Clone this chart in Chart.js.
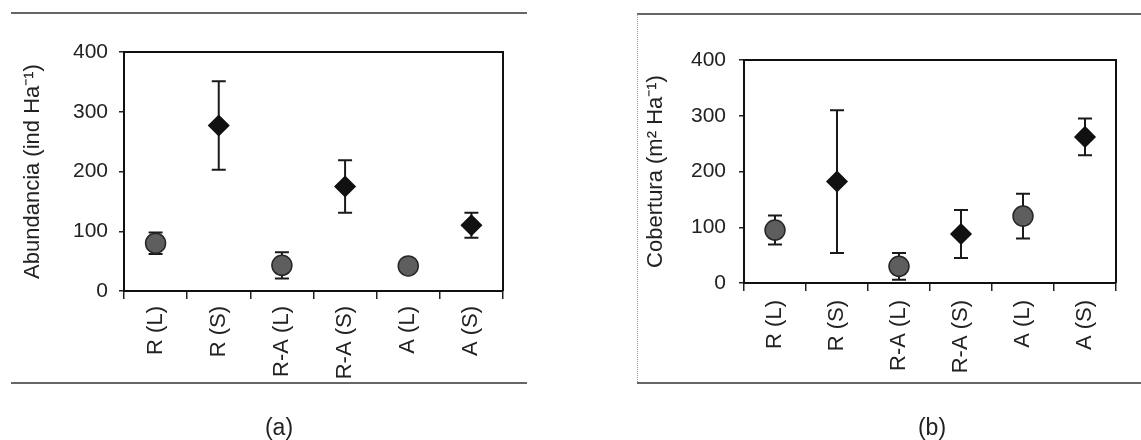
<!DOCTYPE html>
<html><head><meta charset="utf-8">
<script src="https://cdn.jsdelivr.net/npm/chart.js@4.4.1/dist/chart.umd.min.js"></script>
<style>
html,body{margin:0;padding:0;background:#fff;width:1141px;height:440px;overflow:hidden;}
#wrap{position:relative;width:1141px;height:440px;}
canvas{position:absolute;top:0;}
.hl{position:absolute;height:0;border-top:2px solid #666;}
.vl{position:absolute;width:0;border-left:1px dotted #9a9a9a;}
.lab{position:absolute;font:23px "Liberation Sans",Arial,sans-serif;color:#222;transform:translate(-50%,-50%);white-space:nowrap;}
</style></head>
<body><div id="wrap">
<div class="hl" style="left:11px;top:12px;width:516px"></div>
<div class="hl" style="left:11px;top:382px;width:516px"></div>
<div class="hl" style="left:637px;top:13px;width:504px"></div>
<div class="hl" style="left:637px;top:382px;width:504px"></div>
<div class="vl" style="left:637px;top:14px;height:368px"></div>
<canvas id="ca" width="560" height="440" style="left:0;width:560px;height:440px"></canvas>
<canvas id="cb" width="561" height="440" style="left:580px;width:561px;height:440px"></canvas>
<div class="lab" style="left:279px;top:427px">(a)</div>
<div class="lab" style="left:932px;top:427px">(b)</div>
</div>
<script>
// ---- data ----
const categories = ['R (L)', 'R (S)', 'R-A (L)', 'R-A (S)', 'A (L)', 'A (S)'];
const yTicks = [0, 100, 200, 300, 400];
const abundanceMean = [80, 277, 43, 175, 42, 110];
const abundanceErr  = [18, 74, 22, 44, 5, 21];
const coverMean = [95, 182, 30, 88, 120, 262];
const coverErr  = [26, 128, 24, 43, 40, 33];
const titleA = 'Abundancia (ind Ha\u207B\u00B9)';
const titleB = 'Cobertura (m\u00B2 Ha\u207B\u00B9)';

Chart.defaults.font.family = '"Liberation Sans", Arial, Helvetica, sans-serif';
Chart.defaults.color = '#222';

const errorBars = {
  id: 'errorBars',
  beforeDatasetsDraw(chart, args, opts) {
    const {ctx, scales: {x, y}} = chart;
    ctx.save();
    ctx.strokeStyle = '#1a1a1a';
    ctx.lineWidth = 2;
    opts.means.forEach((m, i) => {
      const px = x.getPixelForValue(i);
      const t = y.getPixelForValue(m + opts.errs[i]);
      const b = y.getPixelForValue(m - opts.errs[i]);
      ctx.beginPath();
      ctx.moveTo(px, t); ctx.lineTo(px, b);
      ctx.moveTo(px - 7, t); ctx.lineTo(px + 7, t);
      ctx.moveTo(px - 7, b); ctx.lineTo(px + 7, b);
      ctx.stroke();
    });
    ctx.restore();
  },
  afterDraw(chart) {
    const {ctx, chartArea: a} = chart;
    ctx.save();
    ctx.strokeStyle = '#111';
    ctx.lineWidth = 2;
    ctx.beginPath();
    ctx.moveTo(a.left, a.top); ctx.lineTo(a.right, a.top); ctx.lineTo(a.right, a.bottom);
    ctx.stroke();
    ctx.restore();
  }
};

function makeChart(id, means, errs, title, g) {
  const isL = categories.map(c => c.includes('(L)'));
  return new Chart(document.getElementById(id), {
    type: 'line',
    data: {
      labels: categories,
      datasets: [{
        data: means,
        showLine: false,
        pointStyle: isL.map(l => l ? 'circle' : 'rectRot'),
        pointRadius: 10,
        pointBackgroundColor: isL.map(l => l ? '#5e5e5e' : '#111'),
        pointBorderColor: isL.map(l => l ? '#262626' : '#111'),
        pointBorderWidth: 1.5
      }]
    },
    options: {
      responsive: false,
      animation: false,
      layout: {padding: {left: g.padL, right: g.padR, top: g.padT, bottom: g.padB}},
      plugins: {legend: {display: false}, tooltip: {enabled: false},
        errorBars: {means: means, errs: errs}},
      scales: {
        x: {
          type: 'category',
          offset: true,
          grid: {offset: true, drawOnChartArea: false, drawTicks: true, tickLength: 8, color: '#222', lineWidth: 1.5},
          border: {color: '#111', width: 2},
          ticks: {minRotation: 90, maxRotation: 90, autoSkip: false, padding: g.xPad, font: {size: 22}, color: '#222'},
          afterFit(s) { s.height = 120; }
        },
        y: {
          min: 0, max: 400,
          afterBuildTicks(s) { s.ticks = yTicks.map(v => ({value: v})); },
          grid: {drawOnChartArea: false, drawTicks: true, tickLength: 5, color: '#222', lineWidth: 1.5},
          border: {color: '#111', width: 2},
          ticks: {padding: g.yPad, font: {size: 21}, color: '#222'},
          title: {display: true, text: title, font: {size: 22}, color: '#222', padding: {top: g.titleTop, bottom: 0}},
          afterFit(s) { s.width = g.yW; }
        }
      }
    },
    plugins: [errorBars]
  });
}

makeChart('ca', abundanceMean, abundanceErr, titleA,
  {padL: 14, padR: 57, padT: 52, padB: 29, yW: 110, titleTop: 6, xPad: 7, yPad: 11});
makeChart('cb', coverMean, coverErr, titleB,
  {padL: 44, padR: 25, padT: 60, padB: 37, yW: 120, titleTop: 19, xPad: 9, yPad: 13});
</script>
</body></html>
